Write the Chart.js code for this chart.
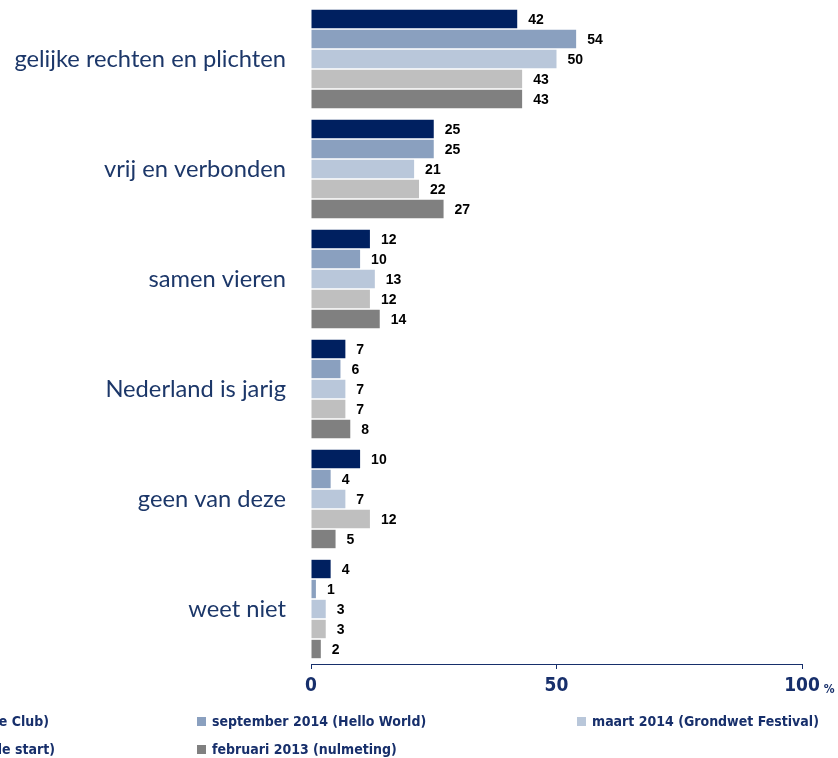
<!DOCTYPE html>
<html>
<head>
<meta charset="utf-8">
<script src="https://cdn.jsdelivr.net/npm/chart.js@4.4.1/dist/chart.umd.min.js"></script>
<style>
  html, body { margin: 0; padding: 0; background: #fff; overflow: hidden; }
  #wrap { position: relative; width: 838px; height: 758px; overflow: hidden; }
  #chart { position: absolute; left: 0; top: 0; }
  .lg { position: absolute; white-space: nowrap; font: bold 14px "Liberation Sans Narrow", "DejaVu Sans Condensed", sans-serif; color: #172f6b; line-height: 16px; }
  .lg i { display: inline-block; width: 9px; height: 9px; margin-right: 6px; vertical-align: 0px; }
</style>
</head>
<body>
<div id="wrap">
  <canvas id="chart" width="838" height="758"></canvas>
  <div id="legend"></div>
</div>
<script>
// categories and series
const categories = ['gelijke rechten en plichten', 'vrij en verbonden', 'samen vieren', 'Nederland is jarig', 'geen van deze', 'weet niet'];
const seriesNames = ['maart 2015 (Grondwette Club)', 'september 2014 (Hello World)', 'maart 2014 (Grondwet Festival)', 'september 2013 (officiële start)', 'februari 2013 (nulmeting)'];
const colors = ['#002060', '#8aa0bf', '#b9c7da', '#bfbfbf', '#808080'];
const v2015 = [42, 25, 12, 7, 10, 4];
const vSep2014 = [54, 25, 10, 6, 4, 1];
const vMrt2014 = [50, 21, 13, 7, 7, 3];
const vSep2013 = [43, 22, 12, 7, 12, 3];
const vFeb2013 = [43, 27, 14, 8, 5, 2];
const xTicks = [0, 50, 100];

const allValues = [v2015, vSep2014, vMrt2014, vSep2013, vFeb2013];

let navy = '#172f6b';
let condensed = '"Liberation Sans Narrow", "DejaVu Sans Condensed", sans-serif';

// value labels next to each bar
const valueLabels = {
  id: 'valueLabels',
  afterDatasetsDraw(chart) {
    let ctx = chart.ctx;
    ctx.save();
    ctx.font = 'bold 14px "Liberation Sans", Arial, sans-serif';
    ctx.fillStyle = '#000';
    ctx.textBaseline = 'middle';
    chart.data.datasets.forEach((ds, i) => {
      chart.getDatasetMeta(i).data.forEach((bar, j) => {
        ctx.fillText(ds.data[j], bar.x + 11, bar.y + 1);
      });
    });
    // small % after the last tick
    let xs = chart.scales.x;
    ctx.font = 'bold 19px ' + condensed;
    let w = ctx.measureText('100').width;
    ctx.font = 'bold 12px ' + condensed;
    ctx.fillStyle = navy;
    ctx.textBaseline = 'alphabetic';
    ctx.fillText('%', xs.getPixelForValue(100) + w / 2 + 4, 693);
    ctx.restore();
  }
};

let datasets = seriesNames.map((name, i) => ({
  label: name,
  data: allValues[i],
  backgroundColor: colors[i],
  categoryPercentage: 100 / 110,
  barPercentage: 0.92
}));

new Chart(document.getElementById('chart'), {
  type: 'bar',
  data: { labels: categories, datasets: datasets },
  plugins: [valueLabels],
  options: {
    indexAxis: 'y',
    responsive: false,
    animation: false,
    layout: { padding: { top: 4, right: 36, left: 0, bottom: 0 } },
    plugins: { legend: { display: false }, tooltip: { enabled: false } },
    scales: {
      y: {
        grid: { display: false },
        border: { display: false },
        afterFit(scale) {
          scale.width = 311;
          scale.paddingTop = 0;
          scale.paddingBottom = 0;
        },
        ticks: { padding: 17, color: '#1c3769', font: { family: 'Lato', size: 23.7 } }
      },
      x: {
        min: 0,
        max: 100,
        afterBuildTicks(scale) { scale.ticks = xTicks.map(v => ({ value: v })); },
        afterFit(scale) { scale.height = 94; },
        grid: { drawOnChartArea: false, drawTicks: true, tickLength: 5, color: navy },
        border: { display: true, color: navy, width: 1 },
        ticks: { padding: 6, color: navy, font: { family: condensed, size: 19, weight: 'bold' } }
      }
    }
  }
});

// legend, laid out in three columns like the original (first column runs off the page)
let legend = document.getElementById('legend');
let pos = [
  { right: 838 - 49, top: 713 }, { left: 197, top: 713 }, { left: 577, top: 713 },
  { right: 838 - 55, top: 741 }, { left: 197, top: 741 }
];
seriesNames.forEach((name, i) => {
  let d = document.createElement('div');
  d.className = 'lg';
  d.style.top = pos[i].top + 'px';
  if (pos[i].left != null) d.style.left = pos[i].left + 'px';
  else d.style.right = pos[i].right + 'px';
  d.innerHTML = '<i style="background:' + colors[i] + '"></i>' + name;
  legend.appendChild(d);
});
</script>
</body>
</html>
